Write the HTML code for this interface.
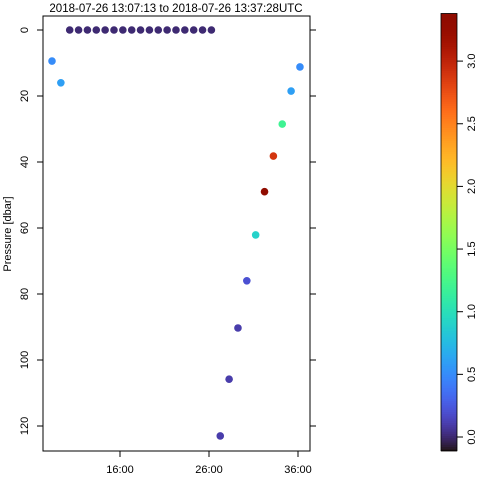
<!DOCTYPE html>
<html><head><meta charset="utf-8"><style>body{margin:0;background:#fff}svg{font-family:"Liberation Sans",sans-serif}</style></head>
<body>
<svg width="480" height="480" id="s"></svg>
<script>
const times=[8.36,9.355,10.35,11.345,12.34,13.335,14.33,15.325,16.32,17.315,18.31,19.305,20.30,21.295,22.29,23.285,24.28,25.275,26.27,27.265,28.26,29.255,30.25,31.245,32.24,33.235,34.23,35.225,36.22];
const pressures=[9.4,16,0,0,0,0,0,0,0,0,0,0,0,0,0,0,0,0,0,123,105.8,90.3,76,62.1,49,38.2,28.5,18.5,11.2];
const values=[0.5,0.6,0,0,0,0,0,0,0,0,0,0,0,0,0,0,0,0,0,0.1,0.1,0.1,0.2,0.9,3.38,2.9,1.2,0.6,0.5];
const xTicks=[16,26,36];const xTickLabels=["16:00","26:00","36:00"];
const yTicks=[0,20,40,60,80,100,120];
const cTicks=[0,0.5,1,1.5,2,2.5,3];const cTickLabels=["0.0","0.5","1.0","1.5","2.0","2.5","3.0"];
const L=43,R=310,T=16,B=451;
const xs=t=>120+(t-16)*8.9, ys=p=>30+p*3.3;
const cmin=-0.11,cmax=3.38, cy=v=>437-v*125.3;
function turbo(x){x=Math.max(0,Math.min(1,x));
const r=34.61+x*(1172.33-x*(10793.56-x*(33300.12-x*(38394.49-x*14825.05))));
const g=23.31+x*(557.33+x*(1225.33-x*(3574.96-x*(1073.77+x*707.56))));
const b=27.2+x*(3211.1-x*(15327.97-x*(27814-x*(22569.18-x*6838.66))));
const c=v=>Math.max(0,Math.min(255,Math.round(v)));return `rgb(${c(r)},${c(g)},${c(b)})`;}
const s=document.getElementById('s');const NS='http://www.w3.org/2000/svg';
function el(tag,a,txt){const e=document.createElementNS(NS,tag);for(const k in a)e.setAttribute(k,a[k]);if(txt!==undefined)e.textContent=txt;s.appendChild(e);return e;}
let e;
e=el('text',{x:176,y:12,'font-size':11.5,'text-anchor':'middle'},'2018-07-26 13:07:13 to 2018-07-26 13:37:28UTC');

e=el('text',{x:0,y:0,'font-size':11,'text-anchor':'middle',transform:'translate(11,234) rotate(-90)'},'Pressure [dbar]');

yTicks.forEach(v=>{const y=ys(v);
e=el('line',{x1:L-6,x2:L,y1:y,y2:y,stroke:'#000'});
e=el('line',{x1:R,x2:R+6,y1:y,y2:y,stroke:'#000'});
e=el('text',{x:0,y:0,'font-size':11,'text-anchor':'middle',transform:`translate(28,${y}) rotate(-90)`},String(v));
});
xTicks.forEach((v,i)=>{const x=xs(v);
e=el('line',{x1:x,x2:x,y1:B,y2:B+6,stroke:'#000'});
e=el('text',{x:x,y:473,'font-size':11,'text-anchor':'middle'},xTickLabels[i]);
});
times.forEach((t,i)=>{e=el('circle',{cx:xs(t),cy:ys(pressures[i]),r:3.8,fill:turbo((values[i]-cmin)/(cmax-cmin))});
});
e=el('rect',{x:L,y:T,width:R-L,height:B-T,fill:'none',stroke:'#000'});

for(let i=0;i<200;i++){const v0=cmin+(cmax-cmin)*i/200,v1=cmin+(cmax-cmin)*(i+1)/200;
e=el('rect',{x:441,y:cy(v1),width:16,height:cy(v0)-cy(v1)+0.6,fill:turbo(i/199)});
}
e=el('rect',{x:441,y:cy(cmax),width:16,height:cy(cmin)-cy(cmax),fill:'none',stroke:'#000','stroke-width':0.8});

cTicks.forEach((v,i)=>{const y=cy(v);
e=el('line',{x1:457,x2:463,y1:y,y2:y,stroke:'#000'});
e=el('text',{x:0,y:0,'font-size':11,'text-anchor':'middle',transform:`translate(475,${y}) rotate(-90)`},cTickLabels[i]);
});
</script>
</body></html>
